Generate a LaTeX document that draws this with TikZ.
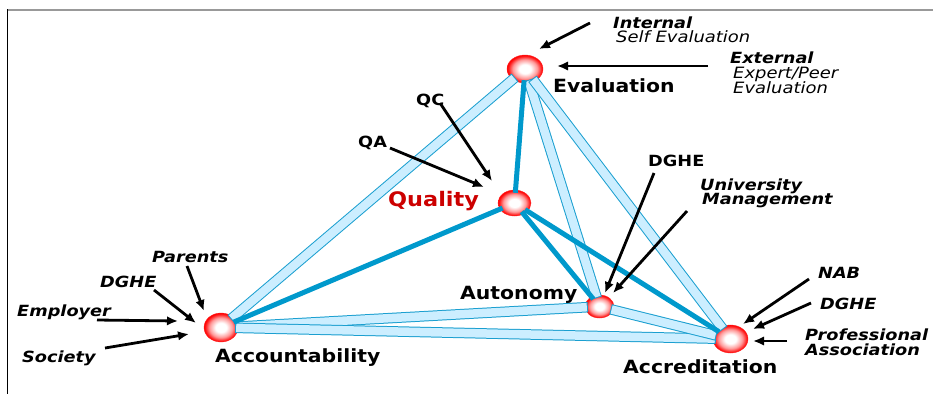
\documentclass[tikz,border=0pt]{standalone}
\usepackage{fontspec}
\usepackage{graphicx}
\setmainfont{DejaVu Sans}
\usetikzlibrary{shapes.geometric,arrows.meta}
\definecolor{barfill}{HTML}{CCEEFF}
\definecolor{barline}{HTML}{1A9FD0}
\definecolor{darkbar}{HTML}{0099CC}
\definecolor{qred}{HTML}{CC0000}
\definecolor{framegray}{HTML}{999999}
\pgfdeclareradialshading{spheresh}{\pgfpoint{0bp}{0bp}}{color(0bp)=(white); color(8bp)=(white); color(17bp)=(red!40); color(23bp)=(red!90); color(25bp)=(red); color(50bp)=(red)}
\newcommand{\X}[1]{\scalebox{1.12}[1]{#1}}
\newcommand{\Y}[1]{\scalebox{1.15}[1]{#1}}
\begin{document}
\begin{tikzpicture}[x=1pt,y=-1pt,
 sphere/.style={ellipse, inner sep=0pt, shade, shading=spheresh, draw=red!85, line width=0.4pt},
 lab/.style={anchor=base west, inner sep=0pt},
 mainlab/.style={lab, font=\fontsize{18.2}{22}\selectfont\bfseries},
 smalllab/.style={lab, font=\fontsize{15.4}{18}\selectfont\bfseries\itshape},
 itlab/.style={lab, font=\fontsize{15.6}{18}\selectfont\itshape},
 plainlab/.style={lab, font=\fontsize{15.4}{18}\selectfont\bfseries},
 barout/.style={draw=barline, line width=10.5pt, shorten <=-3pt, shorten >=-3pt},
 barin/.style={draw=barfill, line width=8.5pt, shorten <=-2pt, shorten >=-2pt},
 dark/.style={draw=darkbar, line width=5pt, shorten <=-3pt, shorten >=-3pt},
 arr/.style={draw=black, line width=2.8pt, -{Latex[length=11pt,width=9.5pt]}}
]
\useasboundingbox (0,0) rectangle (933,394);
% frame
\draw[framegray, line width=2pt] (7,9.5) -- (933,9.5);
\draw[black, line width=1.5pt] (7.5,9) -- (7.5,394);

% spheres
\node[sphere, minimum width=36pt, minimum height=28pt] (eval) at (525,69) {};
\node[sphere, minimum width=33pt, minimum height=26pt] (qual) at (514.5,203) {};
\node[sphere, minimum width=34pt, minimum height=29pt] (acc) at (221,327.5) {};
\node[sphere, minimum width=29pt, minimum height=23pt] (aut) at (599.5,306.5) {};
\node[sphere, minimum width=35pt, minimum height=28pt] (accr) at (730.5,339) {};

% light bars
\foreach \a/\b in {eval/acc, eval/aut, eval/accr, acc/aut, acc/accr, aut/accr}{
  \draw[barout] (\a) -- (\b);
  \draw[barin] (\a) -- (\b);
}
% dark lines
\draw[dark] (eval) -- (qual);
\draw[dark] (qual) -- (acc);
\draw[dark] (qual) -- (aut);
\draw[dark] (qual) -- (accr);

% labels
\node[smalllab] (internal) at (613,28) {\Y{Internal}};
\node[itlab] (selfeval) at (616,42) {\Y{Self Evaluation}};
\node[smalllab] (external) at (730,63) {\Y{External}};
\node[itlab] (expert) at (733,78) {\Y{Expert/Peer}};
\node[itlab] (expeval) at (733,93) {\Y{Evaluation}};
\node[mainlab] (evallab) at (553,92) {\X{Evaluation}};
\node[plainlab] (qc) at (416,105) {\Y{QC}};
\node[plainlab] (qa) at (358,147) {\Y{QA}};
\node[lab, text=qred, font=\fontsize{20}{24}\selectfont\bfseries] (qlab) at (388,206) {\X{Quality}};
\node[plainlab] (dghea) at (648,166) {\Y{DGHE}};
\node[smalllab] (univ) at (700,190) {\Y{University}};
\node[smalllab] (mgmt) at (702,204) {\Y{Management}};
\node[mainlab] (autlab) at (460,299) {\X{Autonomy}};
\node[smalllab] (nab) at (818,278) {\Y{NAB}};
\node[smalllab] (dgheb) at (820,309) {\Y{DGHE}};
\node[smalllab] (prof) at (805,340) {\Y{Professional}};
\node[smalllab] (assoc) at (805,355) {\Y{Association}};
\node[mainlab] (accrlab) at (623,373) {\X{Accreditation}};
\node[mainlab] (acclab) at (215,362) {\X{Accountability}};
\node[smalllab] (parents) at (152,262) {\Y{Parents}};
\node[smalllab] (dghec) at (100,287) {\Y{DGHE}};
\node[smalllab] (employer) at (17,316) {\Y{Employer}};
\node[smalllab] (society) at (22,362) {\Y{Society}};

% arrow coordinates
\coordinate (t1) at (590,23);  \coordinate (h1) at (539,49);
\coordinate (t2) at (708,66);  \coordinate (h2) at (557,66);
\coordinate (t3) at (440,103); \coordinate (h3) at (492,181);
\coordinate (t4) at (390,148); \coordinate (h4) at (484,187);
\coordinate (t5) at (654,173); \coordinate (h5) at (605,293);
\coordinate (t6) at (687,211); \coordinate (h6) at (613,293);
\coordinate (t7) at (809,279); \coordinate (h7) at (743,324);
\coordinate (t8) at (811,303); \coordinate (h8) at (753,329);
\coordinate (t9) at (787,341); \coordinate (h9) at (753,341);
\coordinate (t10) at (187,266); \coordinate (h10) at (204,311);
\coordinate (t11) at (154,290); \coordinate (h11) at (196,323);
\coordinate (t12) at (97,320); \coordinate (h12) at (178,321);
\coordinate (t13) at (105,348); \coordinate (h13) at (189,334);
\foreach \i in {1,...,13}{ \draw[arr] (t\i) -- (h\i); }
\end{tikzpicture}
\end{document}
